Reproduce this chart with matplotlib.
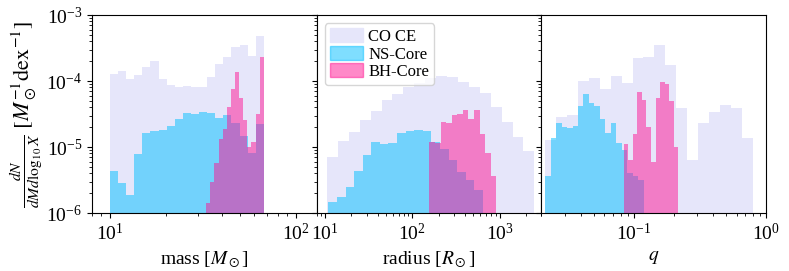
import numpy as np
import matplotlib
matplotlib.use('Agg')
import matplotlib.pyplot as plt
from matplotlib.patches import Patch

plt.rcParams['font.family'] = 'serif'
plt.rcParams['font.serif'] = ['Liberation Serif', 'DejaVu Serif']
plt.rcParams['mathtext.fontset'] = 'stix'

# mass panel (bin range, heights per bin)
mass_ce_range = (10.0, 67.5)
mass_ce = [1.28e-4, 1.40e-4, 1.06e-4, 1.23e-4, 1.61e-4, 1.99e-4, 1.06e-4, 8.7e-5,
           8.2e-5, 8.4e-5, 8.0e-5, 8.0e-5, 1.14e-4, 1.79e-4, 2.34e-4, 3.24e-4,
           3.51e-4, 2.39e-4, 4.81e-4]
mass_ns_range = (10.0, 67.5)
mass_ns = [4.3e-6, 2.8e-6, 1.9e-6, 7.7e-6, 1.61e-5, 1.75e-5, 1.81e-5, 2.08e-5,
           2.65e-5, 3.24e-5, 3.13e-5, 3.43e-5, 3.24e-5, 2.72e-5, 3.05e-5, 2.34e-5,
           1.47e-5, 8.0e-6, 2.2e-5]
mass_bh_range = (33.0, 67.5)
mass_bh = [1.4e-6, 2.9e-6, 5.8e-6, 1.3e-5, 1.9e-5, 4.0e-5, 7.5e-5, 1.38e-4,
           5.5e-5, 2.6e-5, 1.0e-5, 1.2e-5, 3.2e-5, 2.29e-4]

# radius panel
rad_ce_range = (10.5, 2500.0)
rad_ce = [7.1e-6, 1.25e-5, 1.67e-5, 2.56e-5, 3.5e-5, 5.15e-5, 6.4e-5, 8.2e-5,
          9.2e-5, 1.1e-4, 1.19e-4, 1.14e-4, 9.8e-5, 8.0e-5, 6.5e-5, 4.0e-5,
          2.42e-5, 1.44e-5, 8.7e-6]
rad_ns_range = (10.9, 643.0)
rad_ns = [1.49e-6, 1.77e-6, 2.5e-6, 4.38e-6, 7.6e-6, 1.2e-5, 1.11e-5, 1.16e-5,
          1.65e-5, 1.77e-5, 1.81e-5, 1.77e-5, 1.2e-5, 9.2e-6, 6.4e-6, 4.2e-6,
          3.2e-6, 2.2e-6]
rad_bh_range = (157.0, 916.0)
rad_bh = [1.2e-5, 1.15e-5, 2.42e-5, 2.34e-5, 3.05e-5, 3.2e-5, 3.7e-5, 2.7e-5,
          3.6e-5, 1.6e-5, 8.0e-6, 3.6e-6]

# mass ratio panel
q_ce_range = (0.0214, 0.794)
q_ce = [1.28e-5, 2.88e-5, 3.05e-5, 1.0e-4, 1.1e-4, 7.5e-5, 1.19e-4, 9.2e-5,
        2.2e-4, 2.34e-4, 3.5e-4, 1.75e-4, 3.86e-5, 6.4e-6, 2.3e-5, 3.4e-5,
        4.4e-5, 3.9e-5, 1.38e-5]
q_ns_range = (0.0214, 0.1186)
q_ns = [3.6e-6, 1.36e-5, 2.35e-5, 2.0e-5, 1.92e-5, 2.08e-5, 4.2e-5, 6.4e-5,
        4.6e-5, 4.2e-5, 2.7e-5, 1.65e-5, 2.3e-5, 1.16e-5, 9.0e-6, 4.0e-6,
        3.6e-6, 3.2e-6]
q_bh_range = (0.0839, 0.218)
q_bh = [1.1e-5, 6.4e-6, 1.6e-5, 6.9e-5, 5.2e-5, 2.0e-5, 6.0e-6, 5.5e-5,
        9.8e-5, 9.0e-5, 5.0e-5, 1.0e-5]

c_ce = 'lavender'
c_ns = 'deepskyblue'
c_bh = 'deeppink'


def draw_hist(ax, rng, vals, color, alpha):
    edges = np.logspace(np.log10(rng[0]), np.log10(rng[1]), len(vals) + 1)
    ax.bar(edges[:-1], vals, width=np.diff(edges), align='edge',
           color=color, alpha=alpha, linewidth=0)


fig, axes = plt.subplots(1, 3, sharey=True, figsize=(7.89, 2.71), dpi=100)
fig.subplots_adjust(left=0.1166, right=0.9708, bottom=0.214, top=0.9446, wspace=0)

panels = [
    (mass_ce_range, mass_ce, mass_ns_range, mass_ns, mass_bh_range, mass_bh,
     (8, 130), r'mass [$M_\odot$]'),
    (rad_ce_range, rad_ce, rad_ns_range, rad_ns, rad_bh_range, rad_bh,
     (8, 3000), r'radius [$R_\odot$]'),
    (q_ce_range, q_ce, q_ns_range, q_ns, q_bh_range, q_bh,
     (0.02, 1), r'$q$'),
]

for ax, (r1, v1, r2, v2, r3, v3, xlim, xlabel) in zip(axes, panels):
    draw_hist(ax, r1, v1, c_ce, 1.0)
    draw_hist(ax, r2, v2, c_ns, 0.5)
    draw_hist(ax, r3, v3, c_bh, 0.5)
    ax.set_xscale('log')
    ax.set_yscale('log')
    ax.set_xlim(xlim)
    ax.set_ylim(1e-6, 1e-3)
    ax.set_xlabel(xlabel, fontsize=14)
    ax.tick_params(axis='both', which='major', labelsize=14)

axes[0].set_ylabel(r'$\frac{dN}{dMd\log_{10}X}\ [M_\odot^{-1}\mathrm{dex}^{-1}]$',
                   fontsize=16, labelpad=2)

handles = [Patch(color=c_ce, label='CO CE'),
           Patch(color=c_ns, alpha=0.5, label='NS-Core'),
           Patch(color=c_bh, alpha=0.5, label='BH-Core')]
axes[1].legend(handles=handles, loc='upper left', fontsize=12,
               handlelength=2.0, handleheight=0.9, handletextpad=0.3,
               borderpad=0.3, borderaxespad=0.5, labelspacing=0.05)

fig.savefig('out.png', dpi=100)
